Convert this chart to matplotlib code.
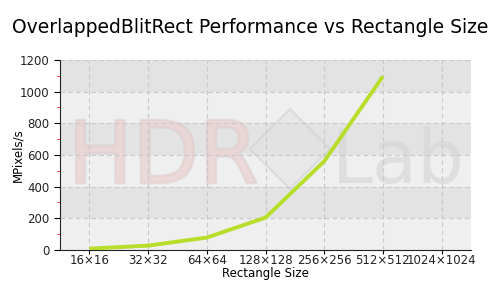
import matplotlib
matplotlib.use("Agg")
import matplotlib.pyplot as plt
import matplotlib.patheffects as pe
from matplotlib.patches import Polygon
from matplotlib.ticker import MultipleLocator

categories = ["16×16", "32×32", "64×64", "128×128", "256×256", "512×512", "1024×1024"]
values = [8, 27, 78, 204, 560, 1097]

fig = plt.figure(figsize=(5, 3), dpi=100)
ax = fig.add_axes([0.12, 0.167, 0.822, 0.633])

ax.set_xlim(-0.5, 6.5)
ax.set_ylim(0, 1200)

# alternating bands
for i, y0 in enumerate(range(0, 1200, 200)):
    ax.axhspan(y0, y0 + 200, color="#efefef" if i % 2 == 0 else "#e3e3e3", zorder=0, lw=0)

# watermark
ax.text(0.019, 0.353, "HDR", transform=ax.transAxes, fontsize=62,
        color="#ebd3d3", alpha=0.5, va="baseline", ha="left", zorder=1,
        path_effects=[pe.withStroke(linewidth=2, foreground="#dcc8c8")])
ax.text(0.662, 0.353, "Lab", transform=ax.transAxes, fontsize=53,
        color="#d4d4d4", alpha=0.6, va="baseline", ha="left", zorder=1)
cx, cy, r = 290 / 500, (300 - 149) / 300, 40
dia = Polygon([(cx - r / 500, cy), (cx, cy + r / 300), (cx + r / 500, cy), (cx, cy - r / 300)],
              closed=True, transform=fig.transFigure, facecolor="#e2e2e2", edgecolor="#cccccc",
              lw=1.5, alpha=0.5, zorder=1)
ax.add_patch(dia)

ax.grid(True, which="major", color="#c8c8c8", linestyle=(0, (4, 3)), lw=0.8, zorder=2)
ax.set_axisbelow(False)

ax.plot(range(len(values)), values, color="#b8dd2a", lw=2.8, zorder=3, solid_capstyle="butt")

ax.set_xticks(range(len(categories)))
ax.set_xticklabels(categories, fontsize=8.5, color="#222222")
ax.yaxis.set_major_locator(MultipleLocator(200))
ax.yaxis.set_minor_locator(MultipleLocator(100))
ax.tick_params(axis="y", which="major", length=4, labelsize=8.5, labelcolor="#222222")
ax.tick_params(axis="y", which="minor", length=2, color="red")
ax.tick_params(axis="x", length=3, pad=0)

for s in ["top", "right"]:
    ax.spines[s].set_visible(False)
ax.spines["left"].set_color("#222222")
ax.spines["bottom"].set_color("#222222")

ax.set_xlabel("Rectangle Size", fontsize=8.5, labelpad=0)
ax.set_ylabel("MPixels/s", fontsize=8.5)
ax.yaxis.set_label_coords(-0.087, 0.5)
fig.suptitle("OverlappedBlitRect Performance vs Rectangle Size", fontsize=13.5, y=0.94)

fig.savefig("out.png", dpi=100)
